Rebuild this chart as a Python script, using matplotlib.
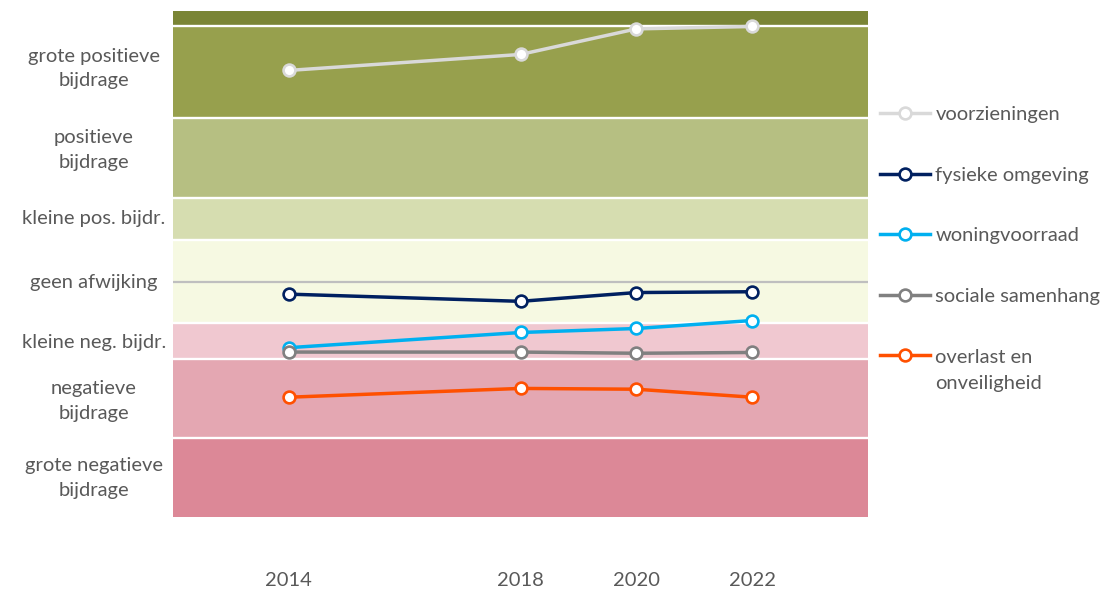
import matplotlib
matplotlib.use("Agg")
import matplotlib.pyplot as plt
from matplotlib.text import Annotation

plt.rcParams['font.family'] = ['Lato', 'DejaVu Sans']

# ---- data ----
years = [2014, 2018, 2020, 2022]
series_names = ["voorzieningen", "fysieke omgeving", "woningvoorraad",
                "sociale samenhang", "overlast en"]
last_label_line2 = "onveiligheid"
voorzieningen = [2.65, 2.85, 3.17, 3.20]
fysieke_omgeving = [-0.15, -0.24, -0.13, -0.12]
woningvoorraad = [-0.82, -0.63, -0.58, -0.48]
sociale_samenhang = [-0.875, -0.875, -0.89, -0.88]
overlast = [-1.44, -1.33, -1.34, -1.44]
series_values = [voorzieningen, fysieke_omgeving, woningvoorraad,
                 sociale_samenhang, overlast]
series_colors = ["#d9d9d9", "#002060", "#00b0f0", "#808080", "#ff5000"]

# background bands (top to bottom)
band_edges = [3.39, 3.20, 2.05, 1.05, 0.525, -0.505, -0.965, -1.95, -2.94]
band_colors = ["#7a8535", "#97a04d", "#b6bf82", "#d6ddb0", "#f6f9e2",
               "#f0c8d0", "#e4a7b2", "#dc8897"]
band_labels = ["grote positieve\nbijdrage", "positieve\nbijdrage",
               "kleine pos. bijdr.", "geen afwijking", "kleine neg. bijdr.",
               "negatieve\nbijdrage", "grote negatieve\nbijdrage"]
band_label_pos = [2.675, 1.65, 0.80, 0.0, -0.75, -1.49, -2.45]

text_color = "#595959"
fs = 14.5

fig = plt.figure(figsize=(11.14, 5.92), dpi=100)
ax = fig.add_axes([173 / 1114, 1 - 565 / 592, (868 - 173) / 1114, (565 - 11.3) / 592])

for i, c in enumerate(band_colors):
    ax.axhspan(band_edges[i + 1], band_edges[i], color=c, lw=0, zorder=0)
for e in band_edges[1:-1]:
    ax.axhline(e, color="white", lw=1.7, zorder=1)
ax.axhline(0, color="#bfbfbf", lw=1.6, zorder=2)

for name, vals, col in zip(series_names, series_values, series_colors):
    ax.plot(years, vals, color=col, lw=2.5, marker="o", markersize=8.5,
            markerfacecolor="white", markeredgecolor=col, markeredgewidth=1.9,
            label=name, zorder=3)

ax.set_xlim(2012, 2024)
ax.set_ylim(-3.54, 3.39)
ax.set_xticks(years)
ax.set_xticklabels([str(y) for y in years], color=text_color, fontsize=fs)
ax.tick_params(axis="x", length=0, pad=5)
ax.set_yticks([])
for s in ax.spines.values():
    s.set_visible(False)

trans = ax.get_yaxis_transform()
for lab, y in zip(band_labels, band_label_pos):
    ax.text(-0.114, y, lab, transform=trans, ha="center", va="center",
            multialignment="center", color=text_color, fontsize=fs,
            linespacing=1.55)

leg = fig.legend(loc="upper left", bbox_to_anchor=(872 / 1114, 1 - 98 / 592),
                 frameon=False, fontsize=fs, handlelength=2.5,
                 handletextpad=0.25, labelspacing=2.16, borderaxespad=0)
for t in leg.get_texts():
    t.set_color(text_color)
last = leg.get_texts()[-1]
ann = Annotation(last_label_line2, xy=(0, 0), xycoords=last, xytext=(0, -7),
                 textcoords="offset points", ha="left", va="top",
                 color=text_color, fontsize=fs, annotation_clip=False)
ann.set_zorder(10)
fig.add_artist(ann)

fig.savefig("out.png", dpi=100)
